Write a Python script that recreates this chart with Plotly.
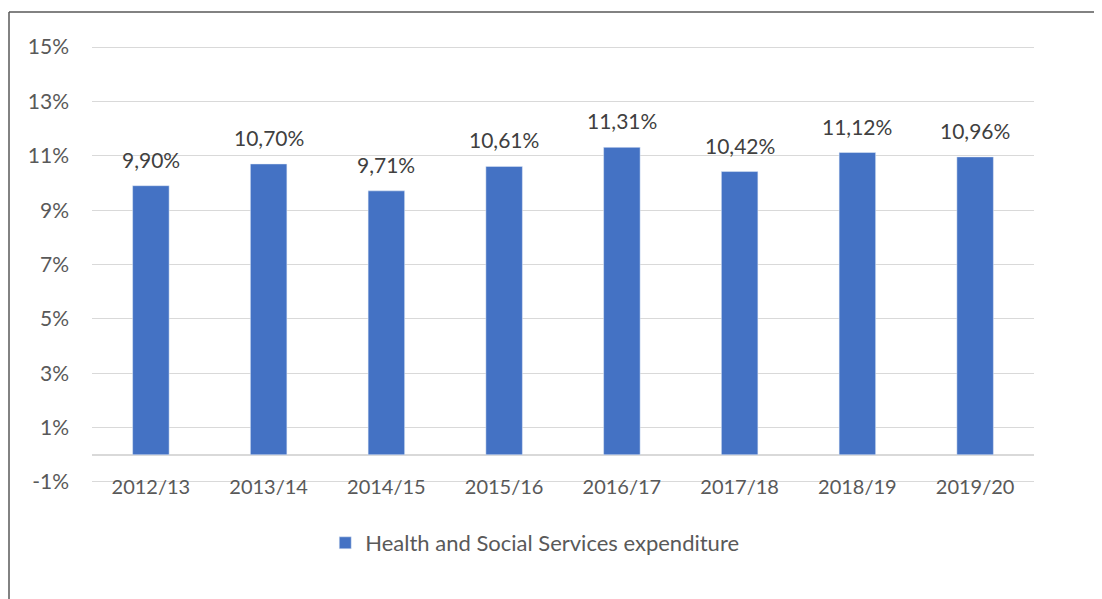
import plotly.graph_objects as go

# Datos
years = ["2012/13", "2013/14", "2014/15", "2015/16", "2016/17", "2017/18", "2018/19", "2019/20"]
expenditure = [9.90, 10.70, 9.71, 10.61, 11.31, 10.42, 11.12, 10.96]
y_ticks = [-1, 1, 3, 5, 7, 9, 11, 13, 15]

labels = [f"{v:.2f}".replace(".", ",") + "%" for v in expenditure]

# la página tiene 8px de margen en el body
W, H = 1094, 591
ML, MR, MT, MB = 84, 68, 38, 116
PW, PH = W - ML - MR, H - MT - MB

fig = go.Figure(
    go.Bar(
        x=years,
        y=expenditure,
        name="Health and Social Services expenditure",
        marker=dict(color="#4472C4"),
        cliponaxis=False,
    )
)

# etiquetas de datos
for yr, val, lab in zip(years, expenditure, labels):
    fig.add_annotation(
        x=yr, y=val, text=lab, showarrow=False,
        yanchor="bottom", yshift=12,
        font=dict(size=21, color="#404040"),
    )

fig.update_layout(
    width=W,
    height=H,
    margin=dict(l=ML, r=MR, t=MT, b=MB),
    plot_bgcolor="white",
    paper_bgcolor="white",
    font=dict(family="Lato, Calibri, sans-serif", size=20, color="#595959"),
    bargap=0.69,
    showlegend=True,
    legend=dict(
        orientation="h",
        x=0.47,
        xanchor="center",
        y=-39 / PH,
        yanchor="top",
        font=dict(size=22, color="#595959"),
    ),
)

fig.update_xaxes(
    showgrid=False,
    showline=False,
    ticks="",
    ticklabelstandoff=-10,
    tickfont=dict(size=20, color="#595959"),
)

fig.update_yaxes(
    range=[-1.04, 15.04],
    tickvals=y_ticks,
    ticktext=[f"{t}%" for t in y_ticks],
    showgrid=True,
    gridcolor="#D9D9D9",
    gridwidth=1,
    zeroline=True,
    zerolinecolor="#D9D9D9",
    zerolinewidth=2,
    showline=False,
    ticks="",
    ticklabelstandoff=22,
    tickfont=dict(size=21, color="#595959"),
)

# marco del gráfico
top = (H - MB - 4) / PH
left = -(ML - 1) / PW
fig.add_shape(type="line", xref="paper", yref="paper",
              x0=left, x1=(W - ML) / PW, y0=top, y1=top,
              line=dict(color="#595959", width=1.5))
fig.add_shape(type="line", xref="paper", yref="paper",
              x0=left, x1=left, y0=top, y1=-MB / PH,
              line=dict(color="#595959", width=1.5))

fig.write_html("out.html")
